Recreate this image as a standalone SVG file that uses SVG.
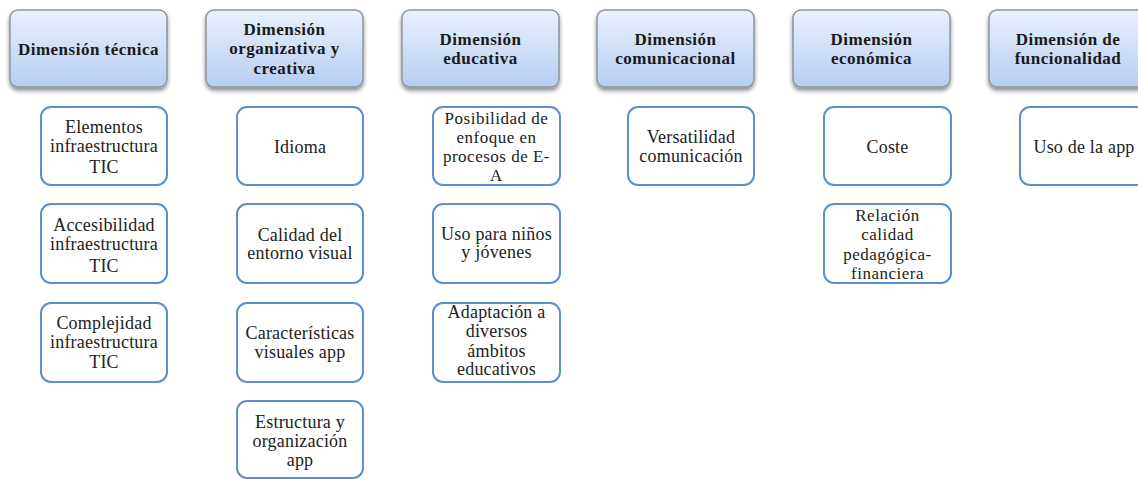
<svg xmlns="http://www.w3.org/2000/svg" width="1138" height="479" viewBox="0 0 1138 479">
<defs>
<linearGradient id="hg" x1="0" y1="0" x2="0" y2="1">
<stop offset="0" stop-color="#eaf1fc"/>
<stop offset="1" stop-color="#b6cdf3"/>
</linearGradient>
<filter id="sh" x="-10%" y="-10%" width="120%" height="130%">
<feGaussianBlur in="SourceAlpha" stdDeviation="2"/>
<feOffset dx="0" dy="3" result="b"/>
<feComponentTransfer><feFuncA type="linear" slope="0.45"/></feComponentTransfer>
<feMerge><feMergeNode/><feMergeNode in="SourceGraphic"/></feMerge>
</filter>
</defs>
<style>
.h rect{fill:url(#hg);stroke:#8e939c;stroke-width:1.5;filter:url(#sh)}
.h text{font-family:"Liberation Serif","Times New Roman",serif;font-weight:bold;font-size:17px;letter-spacing:0.5px;fill:#1a1a1a;text-anchor:middle}
.c rect{fill:#ffffff;stroke:#5b8fd0;stroke-width:2}
.c text{font-family:"Liberation Serif","Times New Roman",serif;font-size:18px;letter-spacing:0.2px;fill:#222;text-anchor:middle}
.c text.s{font-size:17px;letter-spacing:0.5px}
</style>
<rect width="1138" height="479" fill="#ffffff"/>
<g id="connectors"/>

<g id="h1" class="h"><rect x="10" y="10" width="157" height="77" rx="8"/><text x="88.5" y="55">Dimensión técnica</text></g>
<g id="h2" class="h"><rect x="206" y="10" width="157" height="77" rx="8"/><text x="284.5" y="35">Dimensión</text><text x="284.5" y="54">organizativa y</text><text x="284.5" y="74">creativa</text></g>
<g id="h3" class="h"><rect x="402" y="10" width="157" height="77" rx="8"/><text x="480.5" y="45">Dimensión</text><text x="480.5" y="64">educativa</text></g>
<g id="h4" class="h"><rect x="597" y="10" width="157" height="77" rx="8"/><text x="675.5" y="45">Dimensión</text><text x="675.5" y="64">comunicacional</text></g>
<g id="h5" class="h"><rect x="793" y="10" width="157" height="77" rx="8"/><text x="871.5" y="45">Dimensión</text><text x="871.5" y="64">económica</text></g>
<g id="h6" class="h"><rect x="989" y="10" width="157" height="77" rx="8"/><text x="1068" y="45">Dimensión de</text><text x="1068" y="64">funcionalidad</text></g>

<g id="c1a" class="c"><rect x="41" y="107" width="126" height="78" rx="10"/><text x="104" y="133">Elementos</text><text x="104" y="152">infraestructura</text><text x="104" y="173">TIC</text></g>
<g id="c1b" class="c"><rect x="41" y="204" width="126" height="79" rx="10"/><text x="104" y="231">Accesibilidad</text><text x="104" y="250">infraestructura</text><text x="104" y="272">TIC</text></g>
<g id="c1c" class="c"><rect x="41" y="303" width="126" height="79" rx="10"/><text x="104" y="329">Complejidad</text><text x="104" y="348">infraestructura</text><text x="104" y="368">TIC</text></g>

<g id="c2a" class="c"><rect x="237" y="107" width="126" height="78" rx="10"/><text x="300" y="153">Idioma</text></g>
<g id="c2b" class="c"><rect x="237" y="204" width="126" height="79" rx="10"/><text x="300" y="241">Calidad del</text><text x="300" y="259">entorno visual</text></g>
<g id="c2c" class="c"><rect x="237" y="303" width="126" height="79" rx="10"/><text x="300" y="339">Características</text><text x="300" y="358">visuales app</text></g>
<g id="c2d" class="c"><rect x="237" y="401" width="126" height="77" rx="10"/><text x="300" y="428">Estructura y</text><text x="300" y="447">organización</text><text x="300" y="466">app</text></g>

<g id="c3a" class="c"><rect x="433" y="107" width="127" height="78" rx="10"/><text class="s" x="496.5" y="124">Posibilidad de</text><text class="s" x="496.5" y="143">enfoque en</text><text class="s" x="496.5" y="162">procesos de E-</text><text class="s" x="496.5" y="181">A</text></g>
<g id="c3b" class="c"><rect x="433" y="204" width="127" height="79" rx="10"/><text x="496.5" y="240">Uso para niños</text><text x="496.5" y="258">y jóvenes</text></g>
<g id="c3c" class="c"><rect x="433" y="303" width="127" height="79" rx="10"/><text x="496.5" y="318">Adaptación a</text><text x="496.5" y="337">diversos</text><text x="496.5" y="357">ámbitos</text><text x="496.5" y="375">educativos</text></g>

<g id="c4a" class="c"><rect x="628" y="107" width="126" height="78" rx="10"/><text x="691" y="143">Versatilidad</text><text x="691" y="162">comunicación</text></g>

<g id="c5a" class="c"><rect x="824" y="107" width="127" height="78" rx="10"/><text x="887.5" y="153">Coste</text></g>
<g id="c5b" class="c"><rect x="824" y="204" width="127" height="79" rx="10"/><text class="s" x="887.5" y="221">Relación</text><text class="s" x="887.5" y="240">calidad</text><text class="s" x="887.5" y="260">pedagógica-</text><text class="s" x="887.5" y="279">financiera</text></g>

<g id="c6a" class="c"><rect x="1020" y="107" width="126" height="78" rx="10"/><text x="1084" y="153">Uso de la app</text></g>
</svg>
